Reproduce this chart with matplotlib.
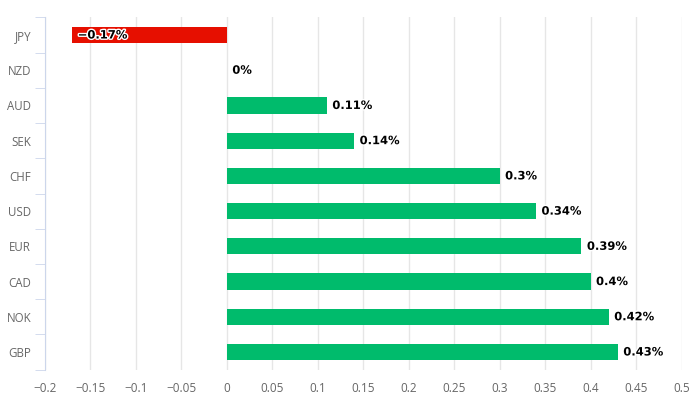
import matplotlib.pyplot as plt
import matplotlib.patheffects as pe

currencies = ["JPY", "NZD", "AUD", "SEK", "CHF", "USD", "EUR", "CAD", "NOK", "GBP"]
changes = [-0.17, 0.0, 0.11, 0.14, 0.30, 0.34, 0.39, 0.40, 0.42, 0.43]
x_ticks = [-0.2, -0.15, -0.1, -0.05, 0, 0.05, 0.1, 0.15, 0.2, 0.25, 0.3, 0.35, 0.4, 0.45, 0.5]

plt.rcParams['font.family'] = ['Open Sans', 'DejaVu Sans']

fig = plt.figure(figsize=(6.91, 3.97), dpi=100)
ax = fig.add_axes([45 / 691, 1 - 369.6 / 397, 636.5 / 691, 352.2 / 397])

colors = ['#e60f00' if v < 0 else '#00bb6c' for v in changes]
ypos = list(range(len(currencies)))
ax.barh(ypos, changes, height=0.46, color=colors, zorder=3)

outline = [pe.withStroke(linewidth=2, foreground='white')]
for y, v in zip(ypos, changes):
    label = ('%g' % v).replace('-', '\u2212') + '%'
    ax.text(v + 0.006, y, label, ha='left', va='center', fontsize=8.3,
            fontweight='bold', family='DejaVu Sans', color='black',
            path_effects=outline, zorder=4)

ax.set_xlim(-0.2, 0.5)
ax.set_ylim(len(currencies) - 0.5, -0.5)
ax.set_xticks(x_ticks)
ax.set_xticklabels([('%g' % t).replace('-', '\u2212') for t in x_ticks])
ax.set_yticks(ypos)
ax.set_yticklabels(currencies)

ax.grid(axis='x', color='#e6e6e6', linewidth=1, zorder=0)
for side in ['top', 'right', 'bottom']:
    ax.spines[side].set_visible(False)
ax.spines['left'].set_color('#ccd6eb')

ax.tick_params(axis='x', length=0, labelsize=8.5, labelcolor='#666666', pad=9)
ax.tick_params(axis='y', length=0, labelsize=8.3, labelcolor='#666666', pad=10)
# minor ticks on y axis between categories
ax.set_yticks([i - 0.5 for i in range(len(currencies) + 1)], minor=True)
ax.tick_params(axis='y', which='minor', length=7, color='#ccd6eb')

fig.savefig('out.png', dpi=100)
